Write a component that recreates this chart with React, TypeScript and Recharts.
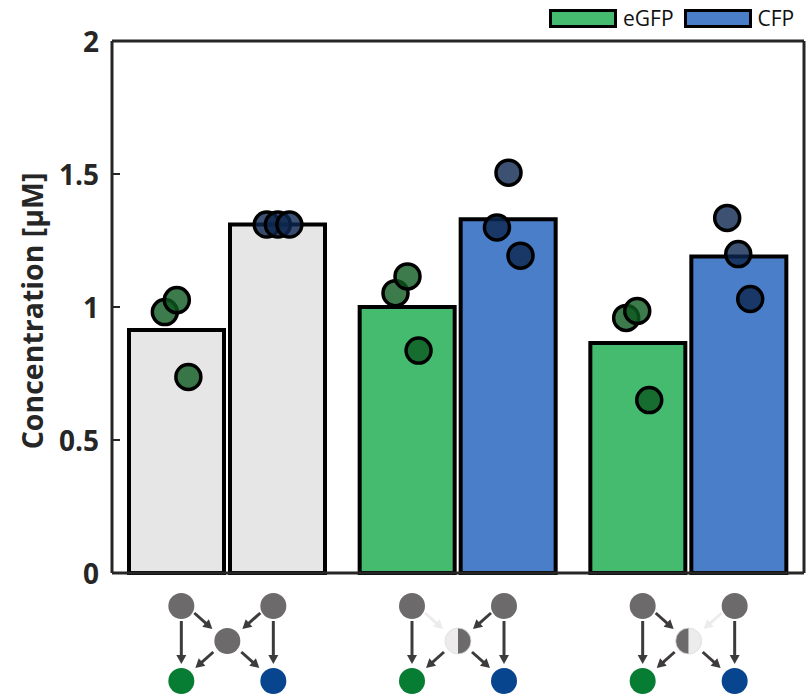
import React from "react";
import { ComposedChart, Bar, Cell, Scatter, XAxis, YAxis, Legend } from "recharts";

// three motif variants, each with eGFP / CFP readout
const CATEGORIES = ["both", "leftOff", "rightOff"];
const SERIES = ["eGFP", "CFP"];
const EGFP_MEAN = [0.914, 1.0, 0.865];
const CFP_MEAN = [1.31, 1.33, 1.19];
const EGFP_REPS = [
  [0.981, 1.026, 0.737],
  [1.052, 1.115, 0.836],
  [0.959, 0.985, 0.65],
];
const CFP_REPS = [
  [1.31, 1.31, 1.31],
  [1.505, 1.299, 1.193],
  [1.335, 1.199, 1.03],
];
// horizontal jitter of replicate dots, in fractions of a category band
const EGFP_JITTER = [
  [-0.052, 0, 0.05],
  [-0.052, 0, 0.048],
  [-0.052, -0.004, 0.048],
];
const CFP_JITTER = [
  [-0.048, 0, 0.05],
  [0, -0.05, 0.052],
  [-0.052, -0.004, 0.048],
];
const Y_TICKS = [0, 0.5, 1, 1.5, 2];

const W = 806;
const H = 699;
const TOP = 40;
const LEFT_W = 112;
const RIGHT_W = 2;
const X_AXIS_H = 126;
const BAR_SIZE = 95;
const BAR_GAP = 6;
const BAND = (W - LEFT_W - RIGHT_W) / CATEGORIES.length;
const SHIFT = (BAR_SIZE + BAR_GAP) / 2 / BAND;

const GREY = "#e6e6e6";
const GREEN = "#44bb6e";
const BLUE = "#4b7ec8";
const AXIS = "#262626";
const NODE = "#6d6a6b";
const NODE_OFF = "#ececec";
const ARROW = "#3e3b3c";
const FONT = "'Open Sans', sans-serif";

const chartData = CATEGORIES.map((c, i) => ({ cat: c, eGFP: EGFP_MEAN[i], CFP: CFP_MEAN[i] }));

const egfpDots = EGFP_REPS.flatMap((reps, i) =>
  reps.map((v, k) => ({ x: i + 0.5 - SHIFT + EGFP_JITTER[i][k], y: v }))
);
const cfpDots = CFP_REPS.flatMap((reps, i) =>
  reps.map((v, k) => ({ x: i + 0.5 + SHIFT + CFP_JITTER[i][k], y: v }))
);

function Arrow({ x1, y1, x2, y2, color }: any) {
  const dx = x2 - x1;
  const dy = y2 - y1;
  const len = Math.hypot(dx, dy);
  const ux = dx / len;
  const uy = dy / len;
  const head = 9;
  const half = 5;
  const bx = x2 - ux * head;
  const by = y2 - uy * head;
  return (
    <g>
      <line x1={x1} y1={y1} x2={bx + ux * 2} y2={by + uy * 2} stroke={color} strokeWidth={3} />
      <polygon
        points={`${x2},${y2} ${bx - uy * half},${by + ux * half} ${bx + uy * half},${by - ux * half}`}
        fill={color}
      />
    </g>
  );
}

function MotifTick({ x, y, payload }: any) {
  const kind = payload.value;
  const r = 13;
  const mx = x;
  const my = y + 68;
  const leftArrow = kind === "leftOff" ? NODE_OFF : ARROW;
  const rightArrow = kind === "rightOff" ? NODE_OFF : ARROW;
  let middle;
  if (kind === "both") {
    middle = <circle cx={mx} cy={my} r={r} fill={NODE} />;
  } else {
    const leftFill = kind === "leftOff" ? NODE_OFF : NODE;
    const rightFill = kind === "rightOff" ? NODE_OFF : NODE;
    middle = (
      <g>
        <path d={`M${mx},${my - r} A${r},${r} 0 0 0 ${mx},${my + r} Z`} fill={leftFill} />
        <path d={`M${mx},${my - r} A${r},${r} 0 0 1 ${mx},${my + r} Z`} fill={rightFill} />
        <circle cx={mx} cy={my} r={r} fill="none" stroke="#dcdcdc" strokeWidth={0.8} />
      </g>
    );
  }
  return (
    <g>
      <circle cx={x - 46} cy={y + 33} r={r} fill={NODE} />
      <circle cx={x + 46} cy={y + 33} r={r} fill={NODE} />
      {middle}
      <circle cx={x - 46} cy={y + 108} r={r} fill="#077c33" />
      <circle cx={x + 46} cy={y + 108} r={r} fill="#07458f" />
      <Arrow x1={x - 46} y1={y + 48} x2={x - 46} y2={y + 91} color={ARROW} />
      <Arrow x1={x + 46} y1={y + 48} x2={x + 46} y2={y + 91} color={ARROW} />
      <Arrow x1={x - 33} y1={y + 40} x2={x - 15} y2={y + 56} color={leftArrow} />
      <Arrow x1={x + 33} y1={y + 40} x2={x + 15} y2={y + 56} color={rightArrow} />
      <Arrow x1={x - 14} y1={y + 79} x2={x - 32} y2={y + 95} color={ARROW} />
      <Arrow x1={x + 14} y1={y + 79} x2={x + 32} y2={y + 95} color={ARROW} />
    </g>
  );
}

function LeftTick({ x, y, payload }: any) {
  return (
    <g>
      <line x1={x + 13} y1={y} x2={x + 21} y2={y} stroke={AXIS} strokeWidth={2} />
      <text
        x={x}
        y={y}
        textAnchor="end"
        dominantBaseline="central"
        fontFamily={FONT}
        fontWeight={700}
        fontSize={28}
        fill="#262626"
      >
        {payload.value}
      </text>
    </g>
  );
}

function RightTick({ x, y }: any) {
  return <line x1={x - 8} y1={y} x2={x} y2={y} stroke={AXIS} strokeWidth={2} />;
}

function YLabel() {
  const cx = 32;
  const cy = TOP + 1 + (H - TOP - 1 - X_AXIS_H) / 2 + 4;
  return (
    <text
      x={cx}
      y={cy}
      transform={`rotate(-90 ${cx} ${cy})`}
      textAnchor="middle"
      dominantBaseline="central"
      fontFamily={FONT}
      fontWeight={700}
      fontSize={28.5}
      fill="#262626"
    >
      Concentration [µM]
    </text>
  );
}

function LegendBox({ payload }: any) {
  const items = (payload || [])
    .filter((p: any) => p.type !== "none")
    .sort((a: any, b: any) => SERIES.indexOf(a.value) - SERIES.indexOf(b.value));
  return (
    <div style={{ display: "flex", alignItems: "center", fontFamily: FONT, fontSize: 21, color: "#111" }}>
      {items.map((p: any) => (
        <div key={p.value} style={{ display: "flex", alignItems: "center", marginRight: 10 }}>
          <div
            style={{
              width: 62,
              height: 13,
              background: p.color,
              border: "3.5px solid #000",
              marginRight: 6,
            }}
          />
          <span>{p.value}</span>
        </div>
      ))}
    </div>
  );
}

const dot = (fill: string) => (p: any) =>
  <circle cx={p.cx} cy={p.cy} r={12.5} fill={fill} fillOpacity={0.8} stroke="#000" strokeWidth={3.5} />;

export default function App() {
  const axisLine = { stroke: AXIS, strokeWidth: 3 };
  return (
    <div style={{ position: "absolute", left: 0, top: 0, width: W, height: H, background: "#fff" }}>
      <ComposedChart
        width={W}
        height={H}
        data={chartData}
        margin={{ top: TOP, right: 0, bottom: 0, left: 0 }}
        barSize={BAR_SIZE}
        barGap={BAR_GAP}
      >
        <XAxis
          xAxisId="cat"
          dataKey="cat"
          height={X_AXIS_H}
          axisLine={axisLine}
          tickLine={false}
          tickSize={0}
          tickMargin={0}
          tick={<MotifTick />}
          interval={0}
        />
        <XAxis
          xAxisId="num"
          type="number"
          dataKey="x"
          domain={[0, 3]}
          orientation="top"
          height={1}
          axisLine={axisLine}
          tick={false}
          tickLine={false}
          allowDataOverflow
        />
        <YAxis
          yAxisId="left"
          width={LEFT_W}
          domain={[0, 2]}
          ticks={Y_TICKS}
          axisLine={axisLine}
          tickLine={false}
          tickSize={0}
          tickMargin={13}
          tick={<LeftTick />}
          label={{ content: YLabel } as any}
        />
        <YAxis
          yAxisId="right"
          orientation="right"
          width={RIGHT_W}
          domain={[0, 2]}
          ticks={Y_TICKS}
          axisLine={axisLine}
          tickLine={false}
          tickSize={0}
          tickMargin={0}
          tick={<RightTick />}
        />
        <Legend
          verticalAlign="middle"
          align="center"
          layout="horizontal"
          wrapperStyle={{ top: 4, left: 549, width: 257, height: 28 }}
          content={<LegendBox />}
        />
        <Bar xAxisId="cat" yAxisId="left" dataKey="eGFP" name="eGFP" fill={GREEN} stroke="#000" strokeWidth={4} isAnimationActive={false}>
          {CATEGORIES.map((c, i) => (
            <Cell key={c} fill={i === 0 ? GREY : GREEN} />
          ))}
        </Bar>
        <Bar xAxisId="cat" yAxisId="left" dataKey="CFP" name="CFP" fill={BLUE} stroke="#000" strokeWidth={4} isAnimationActive={false}>
          {CATEGORIES.map((c, i) => (
            <Cell key={c} fill={i === 0 ? GREY : BLUE} />
          ))}
        </Bar>
        <Scatter
          xAxisId="num"
          yAxisId="left"
          data={egfpDots}
          dataKey="y"
          legendType="none"
          shape={dot("#0c591f")}
          isAnimationActive={false}
        />
        <Scatter
          xAxisId="num"
          yAxisId="left"
          data={cfpDots}
          dataKey="y"
          legendType="none"
          shape={dot("#0c274f")}
          isAnimationActive={false}
        />
      </ComposedChart>
    </div>
  );
}
